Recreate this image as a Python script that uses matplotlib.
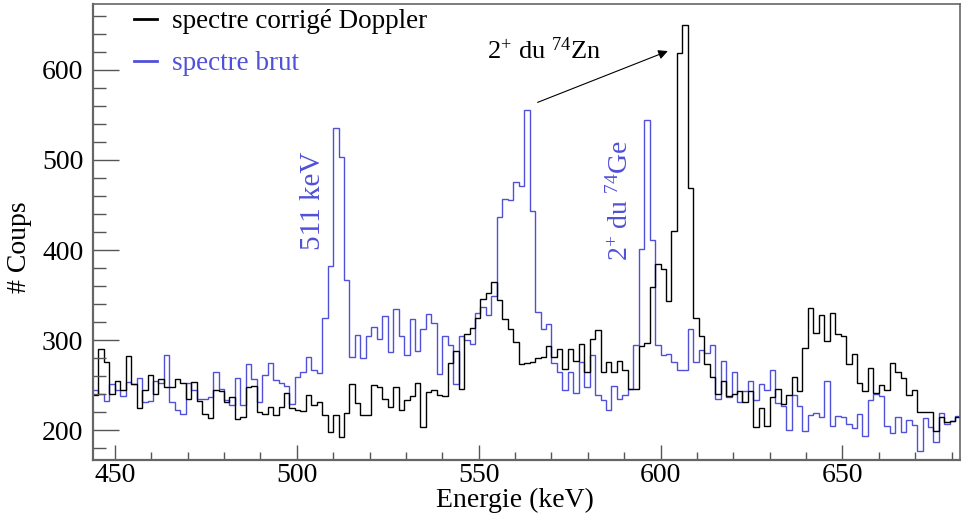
import numpy as np
import matplotlib
matplotlib.use("Agg")
import matplotlib.pyplot as plt
from matplotlib.lines import Line2D

plt.rcParams['font.family'] = ['Liberation Serif', 'DejaVu Serif']
plt.rcParams['mathtext.fontset'] = 'custom'
plt.rcParams['mathtext.rm'] = 'Liberation Serif'
plt.rcParams['mathtext.it'] = 'Liberation Serif:italic'

# ---- histogram binning (keV) ----
BIN_START = 444.0
BIN_WIDTH = 1.5

# counts per bin
doppler = [239, 290, 276, 240, 255, 245, 282, 251, 225, 244,
           261, 240, 257, 248, 248, 257, 252, 234, 253, 232,
           218, 213, 244, 243, 231, 237, 212, 215, 248, 249,
           220, 218, 226, 217, 226, 241, 224, 222, 221, 239,
           228, 231, 217, 198, 217, 192, 219, 251, 230, 217,
           217, 250, 248, 235, 226, 248, 222, 233, 238, 252,
           203, 242, 244, 239, 238, 274, 288, 246, 307, 313,
           325, 346, 352, 365, 345, 323, 312, 298, 273, 275,
           276, 280, 281, 293, 281, 290, 268, 290, 277, 296,
           264, 301, 311, 264, 276, 264, 277, 267, 246, 246,
           293, 297, 359, 385, 379, 343, 421, 619, 650, 469,
           324, 304, 273, 259, 240, 255, 238, 240, 243, 231,
           243, 203, 224, 204, 237, 246, 229, 239, 259, 243,
           291, 336, 308, 328, 299, 330, 307, 304, 273, 284,
           252, 243, 269, 241, 250, 244, 274, 264, 258, 239,
           245, 220, 220, 220, 199, 214, 209, 210, 215]

brut = [245, 240, 232, 251, 244, 238, 253, 251, 258, 231,
        232, 255, 252, 283, 231, 222, 218, 252, 244, 234,
        234, 237, 265, 246, 233, 228, 258, 228, 273, 257,
        231, 261, 275, 256, 252, 249, 229, 259, 265, 281,
        267, 263, 325, 382, 535, 503, 367, 281, 306, 280,
        304, 315, 301, 327, 287, 334, 305, 283, 323, 288,
        312, 329, 319, 262, 304, 294, 251, 304, 300, 296,
        330, 337, 328, 349, 437, 457, 455, 476, 471, 555,
        443, 331, 312, 318, 275, 265, 244, 265, 241, 276,
        248, 283, 239, 233, 222, 249, 234, 239, 246, 294,
        401, 544, 411, 294, 283, 284, 276, 267, 267, 312,
        276, 289, 286, 295, 235, 277, 237, 265, 231, 243,
        254, 233, 251, 244, 267, 230, 227, 200, 239, 227,
        199, 217, 219, 215, 254, 204, 216, 214, 207, 202,
        218, 193, 233, 240, 238, 204, 197, 215, 198, 211,
        206, 177, 213, 203, 187, 219, 207, 210, 216]

x_ticks = [450, 500, 550, 600, 650]
y_ticks = [200, 300, 400, 500, 600]

BLUE = '#5050d8'
edges = BIN_START + BIN_WIDTH * np.arange(len(doppler) + 1)

fig = plt.figure(figsize=(9.61, 5.20), dpi=100)
ax = fig.add_axes([93 / 961, 60 / 520, 867 / 961, 456 / 520])

ax.stairs(brut, edges, color=BLUE, lw=1.0, baseline=None)
ax.stairs(doppler, edges, color='black', lw=1.0, baseline=None)

ax.set_xticks(x_ticks)
ax.set_xticks(np.arange(450, 690, 10), minor=True)
ax.set_yticks(y_ticks)
ax.set_yticks(np.arange(180, 680, 20), minor=True)
ax.set_xlim(444, 682.3)
ax.set_ylim(166.7, 673.3)

ax.tick_params(axis='both', which='both', direction='in', color='#555555',
               labelsize=20, top=False, right=False)
ax.tick_params(axis='y', which='major', length=19, width=1.0, pad=7)
ax.tick_params(axis='y', which='minor', length=9.5, width=1.0)
ax.tick_params(axis='x', which='major', length=11, width=1.0, pad=2)
ax.tick_params(axis='x', which='minor', length=5.5, width=1.0)
for s in ax.spines.values():
    s.set_color('#666666')
    s.set_linewidth(1.2)
ax.spines['left'].set_linewidth(1.6)
ax.spines['bottom'].set_linewidth(1.6)

fig.text(515 / 961, 1 - 500 / 520, 'Energie (keV)', ha='center', va='center', fontsize=20)
fig.text(20 / 961, 1 - 247 / 520, '# Coups', ha='center', va='center', rotation=90, fontsize=20)

# legend
handles = [Line2D([], [], color='black', lw=2), Line2D([], [], color=BLUE, lw=2)]
leg = ax.legend(handles, ['spectre corrigé Doppler', 'spectre brut'], loc='upper left',
                bbox_to_anchor=(0.019, 1.042), frameon=False, fontsize=19.5,
                handlelength=0.85, handletextpad=0.55, labelspacing=0.62,
                labelcolor=['black', BLUE])

# annotations
ax.text(504.4, 455, '511 keV', color=BLUE, rotation=90, ha='center', va='center', fontsize=21)
ax.text(589.0, 455, r'2$^{+}$ du $^{74}$Ge', color=BLUE, rotation=90, ha='center',
        va='center', fontsize=20)
ax.text(568.0, 622, r'2$^{+}$ du $^{74}$Zn', color='black', ha='center', va='center', fontsize=19)
ax.annotate('', xy=(602.0, 621), xytext=(566.2, 564),
            arrowprops=dict(arrowstyle='-|>', color='black', lw=0.8,
                            mutation_scale=14, shrinkA=0, shrinkB=0))

fig.savefig('out.png', dpi=100)
